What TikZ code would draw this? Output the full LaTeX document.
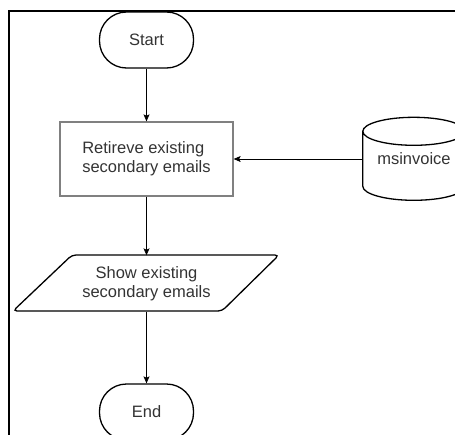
\documentclass[tikz,border=0pt]{standalone}
\usepackage{fontspec}
\setmainfont{Liberation Sans}
\usetikzlibrary{arrows.meta}
\definecolor{txt}{rgb}{0.2,0.2,0.2}
\definecolor{rectline}{rgb}{0.5,0.5,0.5}
\begin{document}
\begin{tikzpicture}[x=1pt,y=-1pt,
  lbl/.style={font=\fontsize{16.5}{19}\selectfont, text=txt, align=center},
  term/.style={lbl, draw=black, line width=1.3pt, rounded corners=27pt,
    minimum width=94pt, minimum height=56pt, inner sep=0pt},
  proc/.style={lbl, draw=rectline, line width=1.3pt,
    minimum width=173pt, minimum height=74pt, inner sep=0pt},
  holder/.style={lbl, inner sep=0pt},
  outline/.style={draw=black, line width=1.3pt},
  flow/.style={draw=black, line width=0.8pt,
    -{Stealth[length=7pt,width=6pt,inset=1.5pt]}},
]
\useasboundingbox (0,0) rectangle (455,434);
\clip (0,0) rectangle (455,434);

% page frame (top and left edges)
\draw[line width=2pt] (9,440) -- (9,11) -- (460,11);

% flowchart column
\node[term] (start) at (146.5,40) {Start};
\node[proc, align=left] (ret) at (146.5,159) {Retireve existing\\secondary emails};
\node[holder, minimum width=207pt, minimum height=56pt] (show) at (146.5,283.5)
  {Show existing\\secondary emails};
\draw[outline, rounded corners=4pt]
  (72,255) -- (279,255) -- (222,311) -- (13,311) -- cycle;
\node[term] (end) at (146.5,412) {End};

% database cylinder
\node[holder, minimum width=102pt, minimum height=83pt] (db) at (414,159) {msinvoice};
\draw[outline] (db.north west) ++(0,14) -- ++(0,55)
  arc[start angle=180, end angle=360, x radius=51pt, y radius=14pt]
  -- ++(0,-55)
  arc[start angle=0, end angle=180, x radius=51pt, y radius=14pt]
  arc[start angle=180, end angle=360, x radius=51pt, y radius=14pt];

% connectors
\draw[flow] (start) -- (ret);
\draw[flow] (db.west) -- (ret.east);
\draw[flow] (ret) -- (show);
\draw[flow] (show) -- (end);
\end{tikzpicture}
\end{document}
